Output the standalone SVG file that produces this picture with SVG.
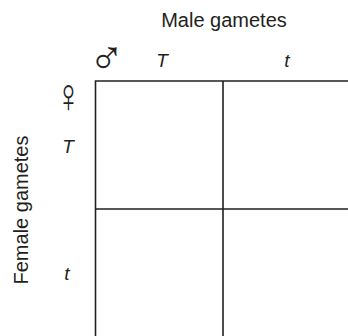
<svg xmlns="http://www.w3.org/2000/svg" width="348" height="336" viewBox="0 0 348 336">
<style>
.lbl{font-family:"Liberation Sans",Arial,sans-serif;font-size:20px;fill:#231f20}
.it{font-family:"Liberation Sans",Arial,sans-serif;font-size:19px;font-style:italic;fill:#231f20;text-anchor:middle}
.sym{font-family:"Liberation Sans",Arial,sans-serif;fill:#231f20;text-anchor:middle;font-size:48px}
.grid{stroke:#231f20;stroke-width:1.6;fill:none}
</style>
<rect width="348" height="336" fill="#fff"/>
<g id="title-male"><text class="lbl" x="224" y="27" text-anchor="middle">Male gametes</text></g>
<g id="title-female"><text class="lbl" transform="translate(28,210) rotate(-90)" text-anchor="middle">Female gametes</text></g>
<g id="male-symbol"><text class="sym" x="106.5" y="74">♂</text></g>
<g id="female-symbol"><text class="sym" transform="translate(68.5,111.5) scale(0.72,1)">♀</text></g>
<g id="male-T"><text class="it" x="162" y="67">T</text></g>
<g id="male-t"><text class="it" x="287" y="67">t</text></g>
<g id="female-T"><text class="it" x="68" y="153">T</text></g>
<g id="female-t"><text class="it" x="67" y="280">t</text></g>
<g id="connectors">
<path class="grid" d="M95.5,336 V81 H348 M223,81 V336 M95.5,209 H348"/>
</g>
</svg>
